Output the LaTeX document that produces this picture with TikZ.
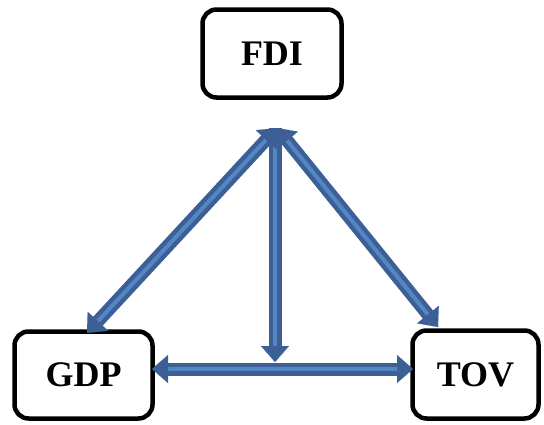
\documentclass[tikz,border=0pt]{standalone}
\usepackage{fontspec}
\setmainfont{Liberation Serif}
\usetikzlibrary{arrows.meta,calc}
\definecolor{arrdark}{RGB}{60,96,150}
\definecolor{arrlight}{RGB}{84,134,196}
\tikzset{
  box/.style={draw=black, line width=4.5pt, rounded corners=14pt, fill=white,
    inner sep=0pt, font=\fontsize{36}{38}\selectfont\bfseries},
  shaft/.style={draw=arrdark, line width=13pt},
  stripe/.style={draw=arrlight, line width=4pt},
  headtip/.style={draw=arrdark, line width=0.01pt, -{Triangle[width=28pt,length=16pt]}},
}
\newcommand{\dblarrow}[2]{%
  \path[shaft, shorten >=14pt, shorten <=14pt] (#1) -- (#2);
  \path[stripe, shorten >=15pt, shorten <=15pt] (#1) -- (#2);
  \path[headtip] ($(#1)!15pt!(#2)$) -- (#1);
  \path[headtip] ($(#2)!15pt!(#1)$) -- (#2);
}
\newcommand{\sglarrow}[2]{%
  \path[shaft, shorten >=14pt] (#1) -- (#2);
  \path[stripe, shorten >=15pt] (#1) -- (#2);
  \path[headtip] ($(#2)!15pt!(#1)$) -- (#2);
}
\begin{document}
\begin{tikzpicture}[x=1pt,y=-1pt]
\useasboundingbox (0,0) rectangle (544,424);
\node[box, minimum width=139pt, minimum height=88pt] (fdi) at (272,53.5) {FDI};
\node[box, minimum width=138pt, minimum height=87pt] (gdp) at (83.5,375) {GDP};
\node[box, minimum width=126pt, minimum height=88pt] (tov) at (475.5,374.5) {TOV};
\coordinate (apex) at (277,128);
\coordinate (vtop) at (275,128);
\coordinate (vbot) at (275,362);
\coordinate (gdptip) at (87,333);
\coordinate (tovtip) at (438,327);
\coordinate (hl) at (152,369);
\coordinate (hr) at (413,369);
\sglarrow{vtop}{vbot}
\dblarrow{hl}{hr}
\dblarrow{apex}{gdptip}
\dblarrow{apex}{tovtip}
\end{tikzpicture}
\end{document}
